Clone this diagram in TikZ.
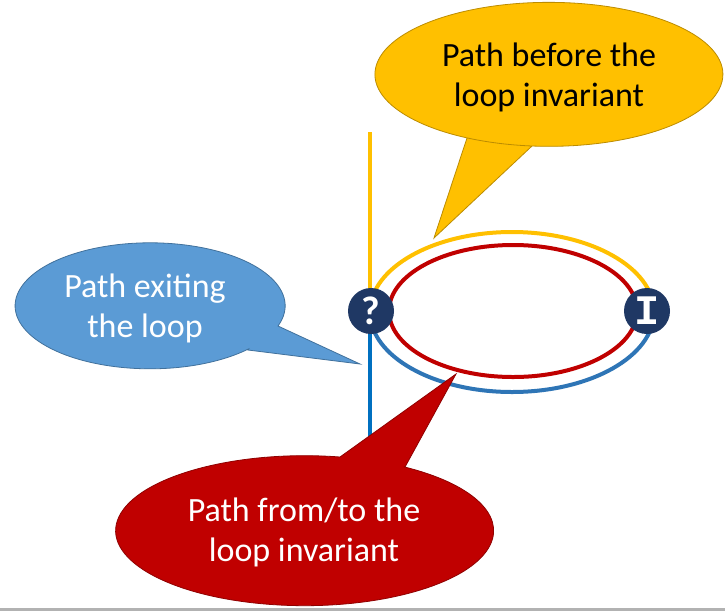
\documentclass[tikz,border=0pt]{standalone}
\usepackage{fontspec}
\setmainfont{Carlito}
\newfontfamily\monofnt{Liberation Mono}
\definecolor{cyel}{HTML}{FFC000}
\definecolor{cyelb}{HTML}{BC8C00}
\definecolor{cblu}{HTML}{5B9BD5}
\definecolor{cblub}{HTML}{41719C}
\definecolor{cred}{HTML}{C00000}
\definecolor{credb}{HTML}{8F0000}
\definecolor{cpath}{HTML}{2E75B6}
\definecolor{cvline}{HTML}{0070C0}
\definecolor{cnavy}{HTML}{1F3864}
\begin{document}
\begin{tikzpicture}[x=1pt,y=-1pt,
  calltext/.style={align=center,font=\fontsize{34}{40}\selectfont},
  pathline/.style={line width=4pt},
  markcirc/.style={circle,fill=cnavy,minimum size=46pt,inner sep=0pt,text=white}]
\useasboundingbox (0,0) rectangle (725,611);
\fill[white] (0,0) rectangle (725,611);
\fill[gray!60] (0,608) rectangle (725,611);
% vertical lines
\coordinate (ytop) at (370,132);
\coordinate (bbot) at (370,437);
\draw[pathline,cyel] (ytop) -- (370,300);
\draw[pathline,cvline] (370,322) -- (bbot);
% outer ellipse halves
\draw[pathline,cyel] (370,312) arc[start angle=180,end angle=360,x radius=142,y radius=80];
\draw[pathline,cpath] (370,312) arc[start angle=180,end angle=0,x radius=142,y radius=80];
% inner red loop
\draw[pathline,cred] (513,311) ellipse[x radius=124,y radius=66];
% markers
\node[markcirc,font=\fontsize{40}{40}\bfseries\selectfont] (q) at (371,311) {?};
\node[markcirc,font=\monofnt\fontsize{42}{42}\bfseries\selectfont] (inv) at (647,311) {I};
% yellow callout
\draw[cyelb,fill=cyel,line width=0.8pt]
  (467,138) -- (434,238) -- (532,146)
  arc[start angle={atan2(146-74,(532-549)/174*72)}, end angle={360+atan2(138-74,(467-549)/174*72)}, x radius=174, y radius=72] -- cycle;
\node[calltext,text=black] (ytext) at (549,77) {Path before the\\loop invariant};
% blue callout
\draw[cblub,fill=cblu,line width=0.8pt]
  (248,350) -- (360,364) -- (278,326)
  arc[start angle={atan2(326-305,(278-145)/135*63)}, end angle={atan2(350-305,(248-145)/135*63)-360}, x radius=135, y radius=63] -- cycle;
\node[calltext,text=white] (btext) at (145,308) {Path exiting\\the loop};
% red callout
\draw[credb,fill=cred,line width=0.8pt]
  (405,467) -- (456,374) -- (340,457)
  arc[start angle={atan2(457-532,(340-304)/189*75)}, end angle={atan2(467-532,(405-304)/189*75)-360}, x radius=189, y radius=75] -- cycle;
\node[calltext,text=white] (rtext) at (304,532) {Path from/to the\\loop invariant};
\end{tikzpicture}
\end{document}
